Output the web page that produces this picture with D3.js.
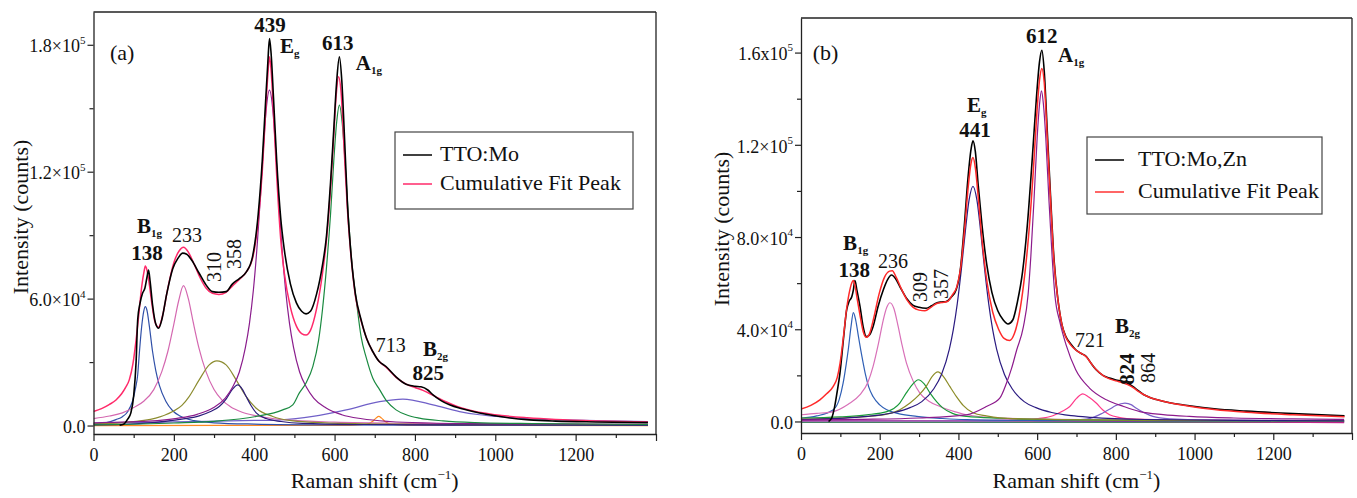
<!DOCTYPE html>
<html>
<head>
<meta charset="utf-8">
<script src="https://cdnjs.cloudflare.com/ajax/libs/d3/7.8.5/d3.min.js"></script>
<style>
  html, body { margin: 0; padding: 0; background: #fff; }
  svg { display: block; }
  text { font-family: 'Liberation Serif', 'Times New Roman', serif; fill: #111; }
</style>
</head>
<body>
<svg id="chart" width="1357" height="498"></svg>
<script>
// ── Panel (a): TTO:Mo, [Raman shift cm-1, counts] ──
var aMeasured = [[65,200],[75,600],[85,3000],[93,6000],[100,14000],[106,30000],[110,50000],[116,58000],[122,62500],[128,65000],[133,70000],[137,73500],[141,68000],[147,57000],[155,48000],[162,46000],[170,50000],[182,62000],[197,74000],[210,79000],[222,81500],[232,81000],[245,78000],[263,72000],[280,66500],[296,63300],[312,63000],[330,63300],[346,67000],[363,69500],[380,72500],[396,80000],[410,100000],[420,125000],[428,152000],[434,172000],[438,183000],[442,176000],[448,155000],[456,125000],[466,98000],[475,83000],[490,67000],[505,58000],[518,54000],[529,52800],[540,54000],[555,62000],[570,76000],[579,88000],[590,115000],[598,140000],[605,162000],[612,174300],[618,163000],[625,135000],[632,105000],[640,83000],[652,62000],[666,50000],[680,41000],[695,35000],[710,30500],[728,27900],[753,23000],[778,19500],[800,18600],[815,18300],[832,16800],[845,14500],[865,11800],[886,9800],[920,7800],[961,5900],[1020,4000],[1085,2700],[1150,2100],[1250,1700],[1380,1400]];
var aFit = [[0,6600],[20,8000],[40,10000],[56,12100],[70,15000],[80,18000],[89,21600],[98,29000],[106,40500],[113,53000],[120,65700],[126,73000],[129,75400],[133,73500],[138,68000],[145,58000],[153,49000],[162,46500],[172,52000],[185,65000],[200,77000],[213,82500],[224,84300],[236,82000],[250,76500],[265,70000],[280,65000],[296,62500],[312,62000],[330,63000],[346,66000],[363,69000],[380,72500],[396,79000],[410,97000],[420,120000],[428,147000],[434,166000],[438,174300],[442,168000],[448,148000],[456,118000],[466,88000],[475,72000],[490,56000],[505,47000],[518,43500],[529,42800],[540,45000],[555,55000],[570,72000],[580,88000],[590,112000],[598,137000],[604,156000],[610,164900],[616,158000],[624,130000],[632,102000],[640,82000],[652,61000],[666,49500],[680,41000],[695,35000],[710,30500],[728,27600],[753,22800],[778,19600],[800,18000],[820,16600],[840,14800],[860,12800],[880,11000],[905,9000],[950,6600],[1000,5100],[1080,3700],[1150,2900],[1250,2200],[1380,1700]];
var aPeak138 = [[0,800],[30,1300],[56,2800],[72,4200],[85,6500],[97,11500],[105,18000],[110,24000],[114,34000],[120,47000],[125,54000],[129,56200],[133,54500],[139,47000],[147,35000],[155,26000],[164,19000],[180,11500],[197,7000],[214,4600],[250,2300],[300,1300],[400,700],[600,300],[900,150],[1380,80]];
var aPeak233 = [[0,3300],[40,4500],[72,6000],[100,8500],[125,11500],[150,17000],[170,25500],[185,35000],[200,48000],[212,59000],[224,66100],[236,60000],[248,49000],[262,37000],[280,25500],[300,17000],[320,12000],[340,9000],[370,6300],[405,4600],[450,3200],[500,2400],[600,1600],[800,1000],[1000,700],[1380,500]];
var aPeak310 = [[0,800],[72,1400],[155,3500],[197,6600],[220,9500],[238,13700],[263,21600],[288,28700],[307,30600],[330,28700],[355,21600],[380,13700],[405,8200],[446,4300],[488,2400],[550,1500],[650,900],[800,600],[1000,400],[1380,300]];
var aPeak358 = [[0,300],[72,500],[155,1500],[220,3000],[263,4600],[290,6500],[313,9000],[330,12500],[346,17200],[359,19200],[371,17000],[380,13700],[392,9500],[405,6000],[430,3300],[467,1900],[520,1000],[650,500],[900,300],[1380,200]];
var aPeak439 = [[0,1300],[38,1500],[138,2100],[208,3400],[258,5300],[298,8400],[328,13000],[346,18100],[363,25300],[378,36800],[388,48100],[398,64200],[408,86900],[416,109800],[423,131400],[430,149800],[438,158600],[446,149800],[453,131400],[460,109800],[468,86900],[478,64200],[488,48100],[498,36800],[513,25300],[530,18100],[548,13000],[578,8400],[618,5100],[668,3200],[738,1900],[838,1200],[938,900],[1100,700],[1380,600]];
var aPeak613 = [[0,300],[200,1200],[300,2000],[405,4300],[471,7400],[496,9800],[512,15300],[530,20500],[546,28000],[560,40000],[570,55000],[580,75000],[590,100000],[598,125000],[605,143000],[612,151500],[619,143000],[626,125000],[634,100000],[644,75000],[654,59300],[666,42000],[679,32000],[695,22500],[712,17000],[730,11500],[753,7400],[780,5000],[811,3500],[870,2200],[950,1400],[1100,900],[1380,500]];
var aPeak713 = [[0,0],[640,100],[680,600],[695,2000],[703,3500],[710,4300],[717,3500],[725,2000],[740,600],[780,100],[1380,0]];
var aPeak825 = [[0,1000],[200,1700],[400,2400],[465,2700],[546,4300],[629,7400],[712,11300],[770,12500],[845,9800],[911,6600],[961,5100],[1002,4300],[1085,3200],[1168,2700],[1280,2200],[1380,1900]];

var aYTicks = [0, 60000, 120000, 180000];
var aYTickText = ['0.0', '6.0×10', '1.2×10', '1.8×10'];
var aYTickExp = ['', '4', '5', '5'];
var aYMinor = [30000, 90000, 150000];

// ── Panel (b): TTO:Mo,Zn ──
var bMeasured = [[70,0],[78,1500],[85,6000],[92,13000],[99,21000],[108,36000],[116,48400],[122,52000],[129,54100],[133,57000],[137,61100],[142,57000],[150,49800],[158,41000],[166,36800],[174,37500],[183,41100],[196,50000],[209,57000],[220,61500],[230,63500],[240,62000],[251,58500],[268,53500],[284,50500],[300,49500],[318,49100],[332,50200],[343,51300],[356,51800],[369,52000],[382,54000],[394,57000],[405,66000],[415,85000],[424,105000],[432,118000],[437,121700],[443,117000],[450,103000],[460,85000],[472,68000],[485,56000],[500,48000],[514,44000],[526,42300],[538,44000],[550,52000],[563,65000],[575,85000],[588,115000],[598,140000],[606,156000],[612,161000],[618,152000],[626,125000],[634,98000],[643,70000],[653,52600],[663,42000],[673,36800],[686,33500],[698,31100],[712,29500],[725,28200],[738,25000],[750,22400],[767,20000],[784,18800],[800,18000],[818,17300],[830,16500],[843,15200],[856,13500],[869,11800],[885,10500],[903,9500],[940,8000],[987,6800],[1050,5500],[1131,4500],[1250,3400],[1381,2500]];
var bFit = [[0,5400],[25,7000],[48,9400],[65,12000],[82,15200],[92,19000],[99,25000],[108,37000],[116,49000],[124,57000],[130,60500],[133,61100],[137,59000],[143,53000],[150,46000],[158,39000],[166,36500],[174,38000],[185,45000],[198,55000],[212,62500],[225,65200],[232,65400],[242,62500],[255,57500],[270,52500],[285,49500],[300,48300],[315,48000],[330,49500],[345,51200],[358,51600],[372,52000],[385,55000],[396,58500],[406,67000],[416,84000],[425,102000],[432,112000],[437,114500],[443,110000],[451,96000],[461,77000],[473,60000],[487,47500],[502,40000],[516,36000],[530,35100],[542,38000],[554,46000],[566,60000],[578,80000],[590,108000],[599,133000],[606,148000],[612,153100],[618,147000],[626,122000],[634,96000],[643,69000],[653,52500],[663,42000],[673,36500],[686,33000],[698,31000],[712,29500],[725,28000],[738,25000],[750,22500],[767,20000],[784,18500],[800,17600],[818,16800],[830,16000],[843,14800],[856,13200],[869,11800],[885,10500],[903,9500],[940,8000],[987,6600],[1050,5200],[1131,4000],[1250,2900],[1381,2000]];
var bPeak138 = [[0,1400],[40,2400],[82,5100],[97,9500],[107,16600],[115,25000],[120,31000],[127,41000],[133,47200],[139,44000],[146,36800],[155,28000],[163,21000],[172,15000],[183,10800],[200,7200],[218,5100],[250,3300],[294,2200],[360,1300],[420,800],[600,400],[900,200],[1380,100]];
var bPeak236 = [[0,2900],[40,3500],[82,4300],[120,7500],[150,11600],[170,17000],[183,23800],[197,34000],[209,44000],[218,49500],[226,51500],[236,49000],[247,41100],[257,33000],[268,25300],[285,17500],[302,12300],[325,8800],[353,6500],[390,4300],[421,2900],[505,1500],[650,900],[900,500],[1380,300]];
var bPeak309 = [[0,1500],[100,2000],[167,2900],[218,4300],[251,8000],[268,12500],[283,16000],[298,18100],[313,16300],[328,12300],[345,8500],[361,5800],[385,3500],[421,2200],[505,1400],[650,800],[900,400],[1380,200]];
var bPeak357 = [[0,1000],[100,1500],[209,2900],[250,5000],[277,8000],[300,11500],[318,15200],[333,19500],[348,21500],[362,19500],[378,15200],[395,10800],[412,7000],[437,3800],[471,2400],[505,1600],[600,1000],[800,600],[1100,350],[1380,250]];
var bPeak441 = [[0,850],[137,1760],[187,2500],[237,3900],[277,6000],[307,8600],[337,14100],[357,20400],[377,31400],[387,39800],[397,51000],[407,65300],[417,81600],[427,96000],[437,102000],[447,96000],[457,81600],[467,65300],[477,51000],[487,39800],[497,31400],[517,20400],[537,14100],[567,8600],[597,6000],[637,3900],[687,2500],[737,1760],[874,850],[1100,500],[1380,300]];
var bPeak612 = [[0,600],[150,900],[300,1500],[420,2900],[471,6500],[505,10100],[522,16600],[535,23000],[548,31000],[565,41000],[577,55000],[584,71700],[592,96000],[600,123000],[606,137500],[611,143400],[616,137500],[622,123000],[630,96000],[638,71700],[645,55000],[658,43000],[674,33000],[698,22400],[733,14500],[776,9400],[820,6500],[861,4300],[920,3000],[987,2200],[1100,1500],[1250,1100],[1380,900]];
var bPeak721 = [[0,200],[400,400],[555,700],[600,1200],[640,2500],[665,4500],[683,6500],[700,10000],[716,12000],[732,10500],[750,8000],[767,5000],[784,2900],[810,1700],[852,1000],[950,600],[1380,300]];
var bPeak824 = [[0,200],[500,300],[650,500],[725,1000],[766,3600],[785,5400],[800,6900],[823,8000],[840,7200],[851,5800],[872,3800],[894,2200],[940,1100],[1000,700],[1380,300]];
var bBaseA = [[0,-300],[1380,-300]];
var bBaseB = [[0,600],[700,100],[1380,-500]];

var bYTicks = [0, 40000, 80000, 120000, 160000];
var bYTickText = ['0.0', '4.0×10', '8.0×10', '1.2×10', '1.6x10'];
var bYTickExp = ['', '4', '4', '5', '5'];
var bYMinor = [20000, 60000, 100000, 140000];

var xMajor = [0, 200, 400, 600, 800, 1000, 1200, 1400];
var xMinor = [100, 300, 500, 700, 900, 1100, 1300];

// Peak annotations, anchored in data units
var aLabels = [
  { text: '(a)', x: 41, y: 172800, anchor: 'start', size: 22 },
  { text: '439', x: 439, y: 186000, bold: true },
  { text: 'E', sub: 'g', x: 464, y: 176100, bold: true, anchor: 'start' },
  { text: '613', x: 608, y: 177500, bold: true },
  { text: 'A', sub: '1g', x: 653, y: 168100, bold: true, anchor: 'start' },
  { text: 'B', sub: '1g', x: 108, y: 91000, bold: true, anchor: 'start' },
  { text: '138', x: 133, y: 78300, bold: true },
  { text: '233', x: 233, y: 86800 },
  { text: '310', x: 300, y: 74900, rotate: true },
  { text: '358', x: 350, y: 81100, rotate: true },
  { text: '713', x: 740, y: 34800 },
  { text: 'B', sub: '2g', x: 820, y: 32900, bold: true, anchor: 'start' },
  { text: '825', x: 833, y: 21500, bold: true }
];
var bLabels = [
  { text: '(b)', x: 30, y: 156800, anchor: 'start', size: 22 },
  { text: 'E', sub: 'g', x: 422, y: 134200, bold: true, anchor: 'start' },
  { text: '441', x: 442, y: 123400, bold: true },
  { text: '612', x: 612, y: 164200, bold: true },
  { text: 'A', sub: '1g', x: 653, y: 155900, bold: true, anchor: 'start' },
  { text: 'B', sub: '1g', x: 107, y: 74400, bold: true, anchor: 'start' },
  { text: '138', x: 135, y: 62700, bold: true },
  { text: '236', x: 234, y: 66600 },
  { text: '309', x: 302, y: 58300, rotate: true },
  { text: '357', x: 356, y: 59600, rotate: true },
  { text: '721', x: 734, y: 32300 },
  { text: 'B', sub: '2g', x: 798, y: 38400, bold: true, anchor: 'start' },
  { text: '824', x: 828, y: 22800, bold: true, rotate: true },
  { text: '864', x: 882, y: 23200, rotate: true }
];

var FONT = "'Liberation Serif', 'Times New Roman', serif";
var AXIS_COLOR = '#222';

var svg = d3.select('#chart');

function drawPanel(p) {
  var x = d3.scaleLinear().domain([0, 1400]).range([p.left, p.right]);
  var y = d3.scaleLinear().domain(p.yDomain).range([p.bottom, p.top]);
  var g = svg.append('g');

  var clipId = 'clip-' + p.id;
  svg.append('clipPath').attr('id', clipId).append('rect')
    .attr('x', p.left).attr('y', p.top)
    .attr('width', p.right - p.left).attr('height', p.bottom - p.top);

  var line = d3.line()
    .x(function (d) { return x(d[0]); })
    .y(function (d) { return y(d[1]); })
    .curve(d3.curveMonotoneX);

  var curves = g.append('g').attr('clip-path', 'url(#' + clipId + ')');
  p.series.forEach(function (s) {
    curves.append('path')
      .datum(s.data)
      .attr('d', line)
      .attr('fill', 'none')
      .attr('stroke', s.color)
      .attr('stroke-width', s.width || 1.2)
      .attr('stroke-linejoin', 'round');
  });

  // frame top + right
  g.append('line').attr('x1', p.left).attr('x2', p.right).attr('y1', p.top).attr('y2', p.top)
    .attr('stroke', AXIS_COLOR).attr('stroke-width', 1.3);
  g.append('line').attr('x1', p.right).attr('x2', p.right).attr('y1', p.top).attr('y2', p.bottom)
    .attr('stroke', AXIS_COLOR).attr('stroke-width', 1.3);

  // x axis
  var xG = g.append('g').attr('transform', 'translate(0,' + p.bottom + ')')
    .call(d3.axisBottom(x).tickValues(xMajor).tickSize(7).tickSizeOuter(0).tickPadding(7)
      .tickFormat(function (d) { return d === 1400 ? '' : d; }));
  var xmG = g.append('g').attr('transform', 'translate(0,' + p.bottom + ')')
    .call(d3.axisBottom(x).tickValues(xMinor).tickSize(4).tickFormat(''));
  xmG.select('.domain').remove();

  // y axis
  var yG = g.append('g').attr('transform', 'translate(' + p.left + ',0)')
    .call(d3.axisLeft(y).tickValues(p.yTicks).tickSize(6).tickSizeOuter(0).tickPadding(2));
  var ymG = g.append('g').attr('transform', 'translate(' + p.left + ',0)')
    .call(d3.axisLeft(y).tickValues(p.yMinor).tickSize(4).tickFormat(''));
  ymG.select('.domain').remove();

  [xG, xmG, yG, ymG].forEach(function (a) {
    a.attr('font-family', FONT).attr('font-size', 18);
    a.selectAll('.domain').attr('stroke', AXIS_COLOR).attr('stroke-width', 1.3);
    a.selectAll('.tick line').attr('stroke', AXIS_COLOR).attr('stroke-width', 1.2);
    a.selectAll('.tick text').attr('fill', '#111');
  });

  yG.selectAll('.tick text').each(function (d, i) {
    var t = d3.select(this);
    t.text(null).attr('dy', '0.4em');
    t.append('tspan').text(p.yTickText[i]);
    if (p.yTickExp[i]) {
      t.append('tspan').attr('font-size', 11).attr('dy', '-0.8em').text(p.yTickExp[i]);
    }
  });

  // axis titles
  var yt = g.append('text')
    .attr('transform', 'translate(' + p.yTitleX + ',' + p.yTitleY + ') rotate(-90)')
    .attr('text-anchor', 'middle')
    .attr('font-size', 22)
    .text('Intensity (counts)');

  var xt = g.append('text')
    .attr('x', (p.left + p.right) / 2)
    .attr('y', 488)
    .attr('text-anchor', 'middle')
    .attr('font-size', 22);
  xt.append('tspan').text('Raman shift (cm');
  xt.append('tspan').attr('font-size', 13).attr('dy', -9).text('−1');
  xt.append('tspan').attr('dy', 9).text(')');

  // annotations
  p.labels.forEach(function (l) {
    var t = g.append('text')
      .attr('font-size', l.size || (l.bold ? 21 : 20))
      .attr('font-weight', l.bold ? 'bold' : 'normal');
    if (l.rotate) {
      t.attr('transform', 'translate(' + x(l.x) + ',' + y(l.y) + ') rotate(-90)')
        .attr('text-anchor', 'middle')
        .attr('dy', '0.35em');
    } else {
      t.attr('x', x(l.x)).attr('y', y(l.y)).attr('text-anchor', l.anchor || 'middle');
    }
    t.append('tspan').text(l.text);
    if (l.sub) t.append('tspan').attr('font-size', 11).attr('dy', 4).text(l.sub);
  });

  // legend
  var L = p.legend;
  var lg = g.append('g');
  lg.append('rect')
    .attr('x', L.x).attr('y', L.y).attr('width', L.w).attr('height', L.h)
    .attr('fill', '#fff').attr('stroke', '#444').attr('stroke-width', 1.2);
  L.items.forEach(function (it, i) {
    var cy = L.y + L.firstRow + i * L.rowGap;
    lg.append('line')
      .attr('x1', L.x + 8).attr('x2', L.x + 37).attr('y1', cy).attr('y2', cy)
      .attr('stroke', it.color).attr('stroke-width', 1.5);
    lg.append('text')
      .attr('x', L.x + L.textOffset).attr('y', cy + 6)
      .attr('font-size', 22)
      .text(it.name);
  });
}

drawPanel({
  id: 'a', left: 93.5, right: 656, top: 12, bottom: 434,
  yDomain: [-4000, 195500],
  yTicks: aYTicks, yTickText: aYTickText, yTickExp: aYTickExp, yMinor: aYMinor,
  yTitleX: 28, yTitleY: 217,
  labels: aLabels,
  series: [
    { data: aPeak713, color: '#ff8a20' },
    { data: aPeak825, color: '#7060c8' },
    { data: aPeak138, color: '#3050a8' },
    { data: aPeak233, color: '#d468b0' },
    { data: aPeak310, color: '#8c8c30' },
    { data: aPeak358, color: '#2c1c7c' },
    { data: aPeak439, color: '#8a1c8c' },
    { data: aPeak613, color: '#1a8a40' },
    { data: aFit, color: '#ff2a6a', width: 1.5 },
    { data: aMeasured, color: '#000', width: 1.6 }
  ],
  legend: {
    x: 395, y: 132, w: 238, h: 77, firstRow: 23, rowGap: 29, textOffset: 45,
    items: [{ name: 'TTO:Mo', color: '#000' }, { name: 'Cumulative Fit Peak', color: '#ff2a6a' }]
  }
});

drawPanel({
  id: 'b', left: 801, right: 1352, top: 18, bottom: 433,
  yDomain: [-5000, 175000],
  yTicks: bYTicks, yTickText: bYTickText, yTickExp: bYTickExp, yMinor: bYMinor,
  yTitleX: 729, yTitleY: 229,
  labels: bLabels,
  series: [
    { data: bBaseA, color: '#0a5a30' },
    { data: bBaseB, color: '#c0208a' },
    { data: bPeak721, color: '#ff3a8a' },
    { data: bPeak824, color: '#7a60c8' },
    { data: bPeak138, color: '#2f5fb5' },
    { data: bPeak236, color: '#d870b8' },
    { data: bPeak309, color: '#1a9a3a' },
    { data: bPeak357, color: '#8c8c28' },
    { data: bPeak441, color: '#2a1a80' },
    { data: bPeak612, color: '#8c1a8c' },
    { data: bMeasured, color: '#000', width: 1.6 },
    { data: bFit, color: '#ff2a2a', width: 1.5 }
  ],
  legend: {
    x: 1087, y: 137, w: 235, h: 77, firstRow: 23, rowGap: 32, textOffset: 51,
    items: [{ name: 'TTO:Mo,Zn', color: '#000' }, { name: 'Cumulative Fit Peak', color: '#ff3333' }]
  }
});
</script>
</body>
</html>
